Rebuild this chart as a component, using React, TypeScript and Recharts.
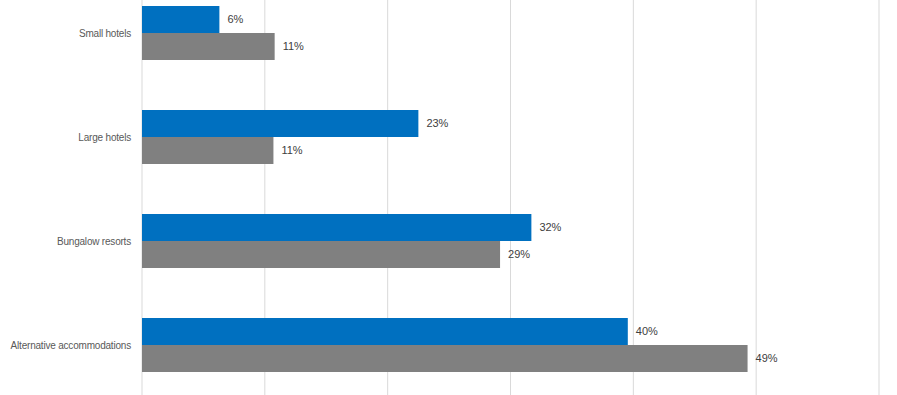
import React from "react";
import { BarChart, Bar, XAxis, YAxis, CartesianGrid, LabelList } from "recharts";

const categories = ["Small hotels", "Large hotels", "Bungalow resorts", "Alternative accommodations"];
const seriesBlue = [0.063, 0.225, 0.317, 0.3955];
const seriesGrey = [0.108, 0.107, 0.2915, 0.493];
const xTicks = [0, 0.1, 0.2, 0.3, 0.4, 0.5, 0.6];

const data = categories.map((name, i) => ({ name, blue: seriesBlue[i], grey: seriesGrey[i] }));

const pct = (v: any) => `${Math.round(Number(v) * 100)}%`;
const FONT = "'Liberation Sans', Arial, sans-serif";

const CategoryTick = (props: any) => {
  const { x, y, payload } = props;
  return (
    <text x={x} y={y} dy={3.5} textAnchor="end" fill="#595959" fontSize={10} fontFamily={FONT} letterSpacing={-0.2}>
      {payload.value}
    </text>
  );
};

export default function App() {
  return (
    <div style={{ position: "absolute", left: 0, top: 0, width: 897, height: 395, overflow: "hidden", background: "#fff" }}>
      <div style={{ position: "absolute", left: 0, top: -19 }}>
        <BarChart
          width={897}
          height={416}
          data={data}
          layout="vertical"
          margin={{ top: 0, right: 18, bottom: 0, left: 0 }}
          barGap={0}
          barSize={27}
        >
          <CartesianGrid horizontal={false} stroke="#D9D9D9" strokeWidth={1} />
          <XAxis type="number" domain={[0, 0.6]} ticks={xTicks} hide />
          <YAxis
            type="category"
            dataKey="name"
            width={142}
            axisLine={false}
            tickLine={false}
            tickMargin={5}
            tick={<CategoryTick />}
          />
          <Bar dataKey="blue" fill="#0070C0" isAnimationActive={false}>
            <LabelList dataKey="blue" position="right" offset={8} formatter={pct} style={{ fill: "#404040", fontSize: 11, fontFamily: FONT }} />
          </Bar>
          <Bar dataKey="grey" fill="#808080" isAnimationActive={false}>
            <LabelList dataKey="grey" position="right" offset={8} formatter={pct} style={{ fill: "#404040", fontSize: 11, fontFamily: FONT }} />
          </Bar>
        </BarChart>
      </div>
    </div>
  );
}
